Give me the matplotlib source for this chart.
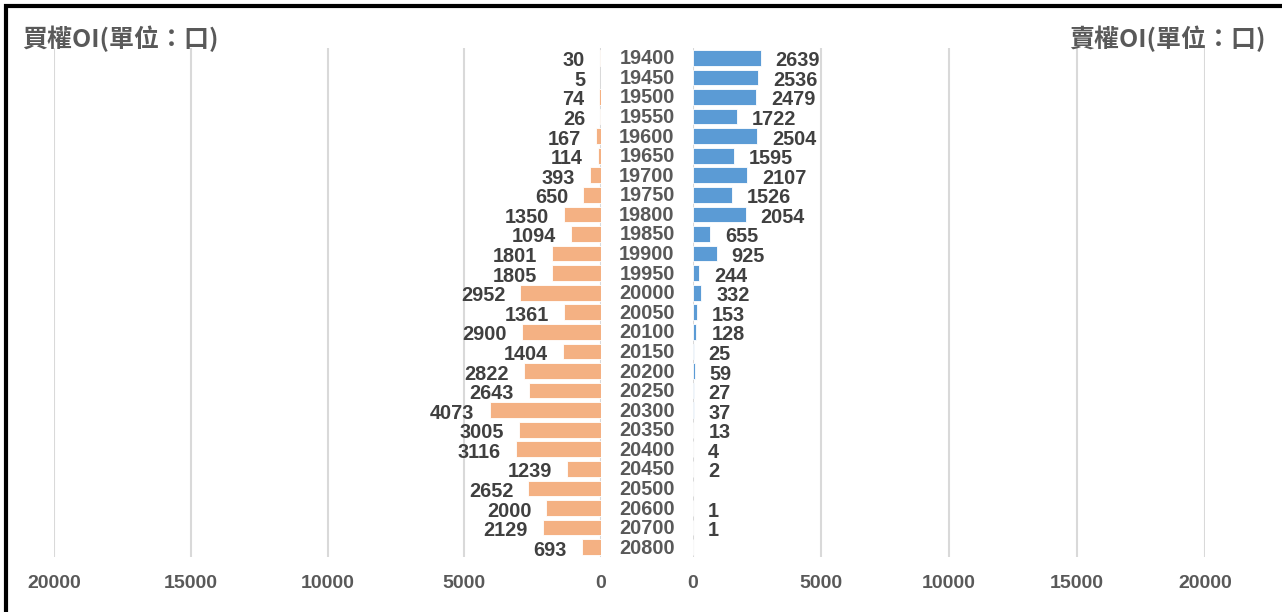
import matplotlib
matplotlib.use("Agg")
import matplotlib.pyplot as plt
import matplotlib.transforms as mtransforms
from matplotlib.patches import Rectangle

strikes = ["19400", "19450", "19500", "19550", "19600", "19650", "19700", "19750",
           "19800", "19850", "19900", "19950", "20000", "20050", "20100", "20150",
           "20200", "20250", "20300", "20350", "20400", "20450", "20500", "20600",
           "20700", "20800"]
call_oi = [30, 5, 74, 26, 167, 114, 393, 650, 1350, 1094, 1801, 1805, 2952, 1361,
           2900, 1404, 2822, 2643, 4073, 3005, 3116, 1239, 2652, 2000, 2129, 693]
put_oi = [2639, 2536, 2479, 1722, 2504, 1595, 2107, 1526, 2054, 655, 925, 244, 332,
          153, 128, 25, 59, 27, 37, 13, 4, 2, None, 1, 1, None]
ticks = [0, 5000, 10000, 15000, 20000]

W, H = 1282, 612
fig = plt.figure(figsize=(W / 100, H / 100), dpi=100)

cjk = ["Noto Sans CJK TC", "DejaVu Sans"]
num_font = "Liberation Sans"
orange = "#F4B183"
blue = "#5B9BD5"
grid_c = "#D9D9D9"
lab_c = "#404040"
tick_c = "#595959"

top_px, bot_px = 48, 557
ax_l = fig.add_axes([54 / W, 1 - bot_px / H, (601 - 54) / W, (bot_px - top_px) / H])
ax_r = fig.add_axes([693 / W, 1 - bot_px / H, (1205 - 693) / W, (bot_px - top_px) / H])

n = len(strikes)
ypos = list(range(n))
put_vals = [v if v is not None else 0 for v in put_oi]

ax_l.barh(ypos, call_oi, height=0.8, color=orange, edgecolor="white", linewidth=0.6, zorder=3)
ax_r.barh(ypos, put_vals, height=0.8, color=blue, edgecolor="white", linewidth=0.6, zorder=3)

ax_l.set_xlim(20000, 0)
ax_r.set_xlim(0, 20000)

for ax in (ax_l, ax_r):
    ax.set_ylim(n - 0.5, -0.5)
    ax.set_yticks([])
    ax.set_xticks(ticks)
    ax.set_xticklabels([str(t) for t in ticks])
    for lbl in ax.get_xticklabels():
        lbl.set_fontfamily(num_font)
        lbl.set_fontweight("bold")
        lbl.set_fontsize(14)
        lbl.set_color(tick_c)
    ax.tick_params(axis="x", length=0, pad=13)
    for s in ax.spines.values():
        s.set_visible(False)
    ax.grid(axis="x", color=grid_c, linewidth=1.5, zorder=0)
    ax.set_axisbelow(True)

# data labels sit a little below the bar centre, as in the source chart
dy = -3
for i, v in enumerate(call_oi):
    ax_l.annotate(str(v), xy=(v, i), xytext=(-15, dy), textcoords="offset pixels",
                  ha="right", va="center", fontsize=14.3, fontweight="bold",
                  family=num_font, color=lab_c)

for i, v in enumerate(put_oi):
    if v is None:
        continue
    ax_r.annotate(str(v), xy=(v, i), xytext=(15, dy), textcoords="offset pixels",
                  ha="left", va="center", fontsize=14.3, fontweight="bold",
                  family=num_font, color=lab_c)

trans = mtransforms.blended_transform_factory(fig.transFigure, ax_l.transData)
for i, s in enumerate(strikes):
    ax_l.annotate(s, xy=(647 / W, i), xycoords=trans, xytext=(0, -1),
                  textcoords="offset pixels", ha="center", va="center",
                  fontsize=14.3, fontweight="bold", family=num_font, color=tick_c,
                  annotation_clip=False)

fig.text(22 / W, 1 - 39 / H, "買權OI(單位：口)", ha="left", va="center",
         fontsize=18, fontweight="bold", family=cjk, color=tick_c)
fig.text(1266 / W, 1 - 39 / H, "賣權OI(單位：口)", ha="right", va="center",
         fontsize=18, fontweight="bold", family=cjk, color=tick_c)

fig.patches.append(Rectangle((5.5 / W, -0.1), 1.2, 1.1 - 5.5 / H,
                             transform=fig.transFigure, fill=False,
                             edgecolor="black", linewidth=3, zorder=10))

fig.savefig("out.png", dpi=100)
